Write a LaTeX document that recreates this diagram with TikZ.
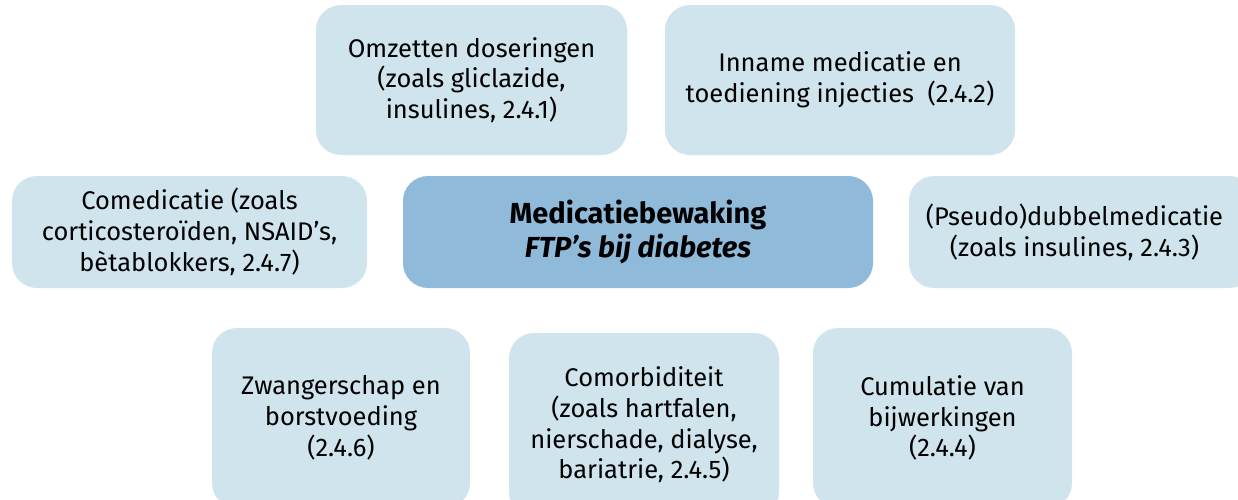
\documentclass[tikz,border=0pt]{standalone}
\usepackage{fontspec}
\setmainfont{Fira Sans}
\usepackage{tikz}
\usetikzlibrary{positioning}
\definecolor{boxlight}{RGB}{207,228,236}
\definecolor{boxdark}{RGB}{143,186,218}
\tikzset{
    topicnode/.style = {rectangle, rounded corners=0.5cm, fill=boxlight, draw=none, align=center, inner sep=0pt, text=black, font=\fontsize{14.5}{17.5}\selectfont},
    centrenode/.style = {rectangle, rounded corners=0.5cm, fill=boxdark, draw=none, align=center, inner sep=0pt, text=black, font=\fontsize{16.5}{19}\selectfont\bfseries},
}
\begin{document}
\begin{tikzpicture}[scale=1.00,transform shape]
\path[use as bounding box] (0,0) rectangle (24.76,-9.98);
\clip (0,0) rectangle (24.76,-9.98);
% top row
\node[topicnode, minimum width=6.22cm, minimum height=3.00cm] at (9.43,-1.60) (omzet) {Omzetten doseringen\\(zoals gliclazide,\\insulines, 2.4.1)};
\node[topicnode, minimum width=7.00cm, minimum height=3.00cm] at (16.80,-1.60) (inname) {Inname medicatie en\\toediening injecties~~(2.4.2)};
% middle row
\node[topicnode, minimum width=7.10cm, minimum height=2.24cm] at (3.79,-4.64) (comed) {Comedicatie (zoals\\corticosteroïden, NSAID’s,\\bètablokkers, 2.4.7)};
\node[centrenode, minimum width=9.40cm, minimum height=2.24cm] at (12.76,-4.64) (centre) {Medicatiebewaking\\\itshape FTP’s bij diabetes};
\node[topicnode, minimum width=6.90cm, minimum height=2.24cm] at (21.63,-4.64) (dubbel) {\hspace*{-0.28cm}(Pseudo)dubbelmedicatie\\\hspace*{-0.28cm}(zoals insulines, 2.4.3)};
% bottom row
\node[topicnode, minimum width=5.16cm, minimum height=3.60cm] at (6.82,-8.36) (zwanger) {Zwangerschap en\\borstvoeding\\(2.4.6)};
\node[topicnode, minimum width=5.40cm, minimum height=3.68cm] at (12.88,-8.50) (comorb) {Comorbiditeit\\(zoals hartfalen,\\nierschade, dialyse,\\bariatrie, 2.4.5)};
\node[topicnode, minimum width=5.18cm, minimum height=3.60cm] at (18.85,-8.36) (cumul) {Cumulatie van\\bijwerkingen\\(2.4.4)};
\end{tikzpicture}
\end{document}
